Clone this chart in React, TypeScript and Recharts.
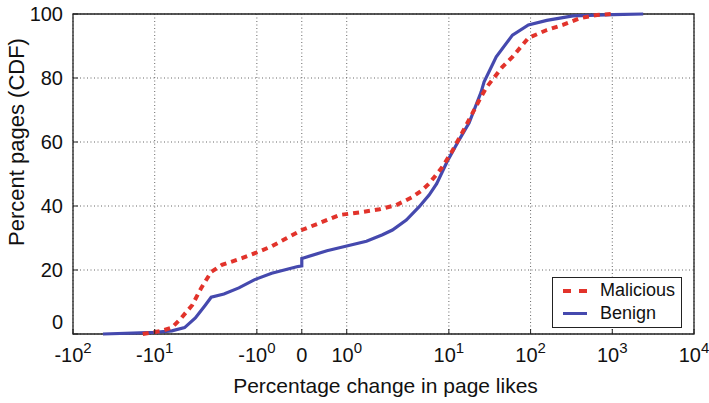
import * as React from 'react';
import { LineChart, Line, XAxis, YAxis, CartesianGrid, ReferenceArea, Label } from 'recharts';

// x axis: odd symmetric-log layout, tick values and where they sit (in decade-ish units)
const tickValues = [-100, -10, -1, 0, 1, 10, 100, 1000, 10000];
const tickBases = ['-10', '-10', '-10', '0', '10', '10', '10', '10', '10'];
const tickExps = ['2', '1', '0', '', '0', '1', '2', '3', '4'];
const axisStops = [0, 1.0, 2.25, 2.8, 3.35, 4.6, 5.6, 6.6, 7.6];

const cdfTicks = [0, 20, 40, 60, 80, 100];

// Malicious pages: percentage change in likes vs. CDF
const maliciousChange = [-14, -8.5, -6.8, -5.7, -4.3, -3.5, -2.8, -2.2, -1.4, -0.98, -0.67, -0.33, 0, 0.4, 0.84, 1.34, 2.1, 3.06, 4.4, 5.5, 6.4, 8.55, 10.9, 14.5, 23.5, 28.7, 45, 60, 94, 158, 248, 403, 650, 1000];
const maliciousCdf = [0, 1, 2, 4.4, 9, 14.4, 19.4, 21.6, 23.7, 25.6, 27.4, 30, 32.5, 34.7, 37.2, 38, 39, 40.3, 42.8, 45, 47, 52, 57, 62.8, 73, 77, 83.4, 86.6, 92.5, 95, 96.6, 98.7, 99.7, 100];

// Benign pages
const benignChange = [-43, -10, -6.8, -5.1, -4.0, -3.2, -2.8, -2.1, -1.5, -1.05, -0.67, -0.11, 0, 0, 0.02, 0.56, 1.0, 1.56, 2.24, 2.8, 3.83, 5.1, 6.4, 7.6, 9.6, 13.3, 17.7, 24.8, 27, 38, 60, 94, 158, 330, 1030, 2390];
const benignCdf = [0, 0.5, 1, 2, 5, 9, 11.5, 12.5, 14.4, 17, 19, 21, 21.3, 23.6, 23.7, 26, 27.5, 29, 31, 32.5, 35.6, 39.7, 43.4, 47, 53.8, 60.6, 66, 75.6, 78.8, 86.6, 93.4, 96.6, 98, 99.4, 99.8, 100];

const FONT = 'Arial, "Liberation Sans", sans-serif';
const RED = '#e2332b';
const BLUE = '#4549ae';
const INK = '#111';

// map a percentage change onto the axis: log between decades, linear around zero
const toAxis = (v: number) => {
    for (let i = 0; i < tickValues.length - 1; i++) {
        const a = tickValues[i];
        const b = tickValues[i + 1];
        if (v >= a && v <= b) {
            let t;
            if (Math.abs(a) >= 1 && Math.abs(b) >= 1) {
                t = (Math.log10(Math.abs(v)) - Math.log10(Math.abs(a))) / (Math.log10(Math.abs(b)) - Math.log10(Math.abs(a)));
            } else {
                t = (v - a) / (b - a);
            }
            return axisStops[i] + t * (axisStops[i + 1] - axisStops[i]);
        }
    }
    return v < 0 ? axisStops[0] : axisStops[axisStops.length - 1];
};

const maliciousData = maliciousChange.map((c, i) => ({ x: toAxis(c), cdf: maliciousCdf[i] }));
const benignData = benignChange.map((c, i) => ({ x: toAxis(c), cdf: benignCdf[i] }));
const xTicks = tickValues.map(toAxis);
const xDomain = [axisStops[0], axisStops[axisStops.length - 1]];

const XTick = (props: any) => {
    const idx = xTicks.indexOf(props.payload.value);
    return (
        <g>
            <line x1={props.x} x2={props.x} y1={props.y} y2={props.y - 5} stroke="#222" />
            <text x={props.x} y={props.y + 28} textAnchor="middle" fontSize={20} fontFamily={FONT} fill={INK}>
                <tspan>{tickBases[idx]}</tspan>
                {tickExps[idx] !== '' && <tspan dy={-9} fontSize={15}>{tickExps[idx]}</tspan>}
            </text>
        </g>
    );
};

const YTick = (props: any) => {
    const v = props.payload.value;
    return (
        <g>
            <line x1={props.x} x2={props.x + 5} y1={props.y} y2={props.y} stroke="#222" />
            <text x={props.x - 10} y={props.y + 7 - (v === 0 ? 12 : 0)} textAnchor="end" fontSize={20} fontFamily={FONT} fill={INK}>
                {v}
            </text>
        </g>
    );
};

// inward tick marks on the top and right edges of the box
const TopTick = (props: any) => <line x1={props.x} x2={props.x} y1={props.y} y2={props.y + 5} stroke="#222" />;
const RightTick = (props: any) => <line x1={props.x} x2={props.x - 5} y1={props.y} y2={props.y} stroke="#222" />;

export default function App() {
    return (
        <div style={{ position: 'absolute', left: 0, top: 0, width: 709, height: 403, background: '#fff' }}>
            <LineChart width={709} height={403} margin={{ top: 14, right: 15, bottom: 0, left: 0 }}>
                <CartesianGrid stroke="#666" strokeDasharray="1 2.5" />
                <XAxis
                    type="number"
                    dataKey="x"
                    domain={xDomain}
                    ticks={xTicks}
                    tick={<XTick />}
                    tickSize={0}
                    tickMargin={0}
                    axisLine={false}
                    height={69}
                    allowDuplicatedCategory={false}
                >
                    <Label
                        content={(p: any) => (
                            <text x={p.viewBox.x + p.viewBox.width / 2 + 2} y={p.viewBox.y + 59} textAnchor="middle" fontSize={21} fontFamily={FONT} fill={INK}>
                                Percentage change in page likes
                            </text>
                        )}
                    />
                </XAxis>
                <XAxis
                    xAxisId="top"
                    orientation="top"
                    type="number"
                    dataKey="x"
                    domain={xDomain}
                    ticks={xTicks}
                    tick={<TopTick />}
                    tickSize={0}
                    tickMargin={0}
                    axisLine={false}
                    height={0}
                    allowDuplicatedCategory={false}
                />
                <YAxis
                    type="number"
                    domain={[0, 100]}
                    ticks={cdfTicks}
                    tick={<YTick />}
                    tickSize={0}
                    tickMargin={0}
                    axisLine={false}
                    width={73}
                >
                    <Label
                        content={() => (
                            <text x={16} y={142} transform="rotate(-90 16 142)" textAnchor="middle" dominantBaseline="central" fontSize={22} fontFamily={FONT} fill={INK}>
                                Percent pages (CDF)
                            </text>
                        )}
                    />
                </YAxis>
                <YAxis
                    yAxisId="right"
                    orientation="right"
                    type="number"
                    domain={[0, 100]}
                    ticks={cdfTicks}
                    tick={<RightTick />}
                    tickSize={0}
                    tickMargin={0}
                    axisLine={false}
                    width={0}
                />
                <Line data={benignData} dataKey="cdf" type="linear" stroke={BLUE} strokeWidth={3.2} dot={false} isAnimationActive={false} />
                <Line data={maliciousData} dataKey="cdf" type="linear" stroke={RED} strokeWidth={4} strokeDasharray="6 5" dot={false} isAnimationActive={false} />
                <ReferenceArea x1={xDomain[0]} x2={xDomain[1]} y1={0} y2={100} fill="none" stroke="#222" strokeWidth={1.3} />
            </LineChart>
            <div style={{ position: 'absolute', left: 552, top: 277, width: 128, height: 49, border: '1.3px solid #222', background: '#fff', fontFamily: FONT, fontSize: 18, color: INK }}>
                <div style={{ position: 'absolute', left: 10, top: 11, width: 24, borderTop: `4px dashed ${RED}` }} />
                <div style={{ position: 'absolute', left: 47, top: 1, lineHeight: '22px' }}>Malicious</div>
                <div style={{ position: 'absolute', left: 10, top: 34, width: 24, borderTop: `3px solid ${BLUE}` }} />
                <div style={{ position: 'absolute', left: 47, top: 24, lineHeight: '22px' }}>Benign</div>
            </div>
        </div>
    );
}
